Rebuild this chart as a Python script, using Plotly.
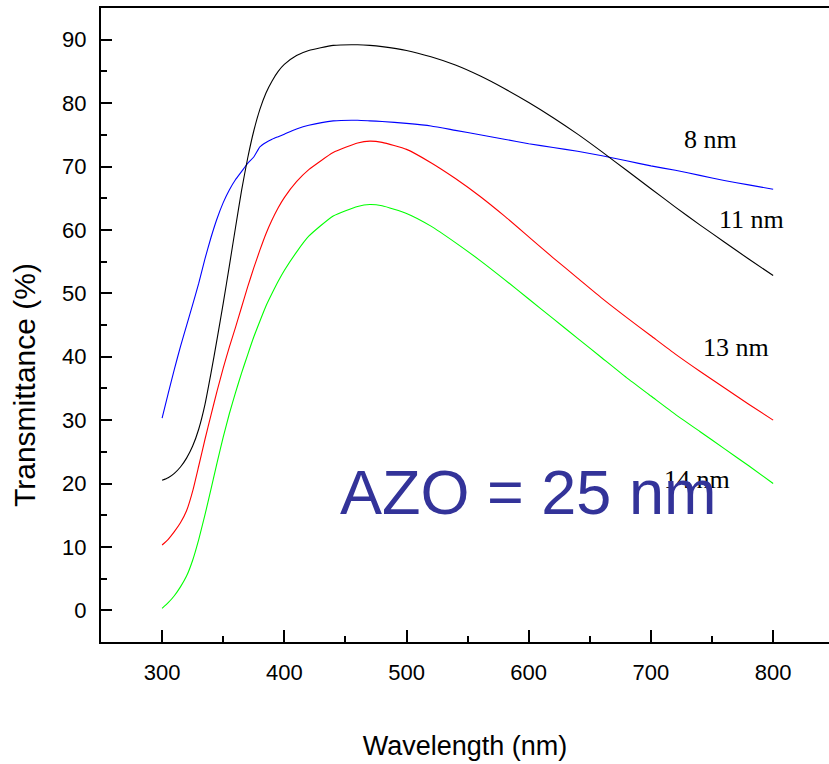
import plotly.graph_objects as go

# Wavelength grid (nm) shared by all spectra
wavelength = [300, 305, 310, 315, 320, 325, 330, 335, 340, 345, 350, 355, 360,
              365, 370, 375, 380, 385, 390, 395, 400, 410, 420, 440, 460, 470,
              480, 500, 520, 540, 560, 580, 600, 620, 640, 660, 680, 700, 720,
              740, 760, 780, 800]

# Transmittance (%) for each Ag layer thickness
t_8nm = [30.3, 34.2, 38.0, 41.6, 44.9, 48.2, 51.6, 55.4, 58.8, 61.8, 64.3, 66.3, 67.9,
         69.2, 70.5, 71.5, 73.1, 73.8, 74.3, 74.7, 75.1, 75.9, 76.5, 77.2, 77.3, 77.2,
         77.1, 76.8, 76.4, 75.7, 75.0, 74.3, 73.6, 73.0, 72.4, 71.7, 70.9, 70.1, 69.4,
         68.6, 67.8, 67.1, 66.4]
t_11nm = [20.5, 20.9, 21.6, 22.6, 24.0, 25.9, 28.6, 32.4, 37.4, 42.8, 48.4, 54.3, 60.3,
          66.2, 71.3, 75.6, 79.0, 81.6, 83.5, 85.0, 86.1, 87.5, 88.3, 89.1, 89.2, 89.1,
          88.9, 88.3, 87.3, 86.0, 84.3, 82.3, 80.1, 77.7, 75.1, 72.3, 69.4, 66.5, 63.6,
          60.8, 58.1, 55.4, 52.8]
t_13nm = [10.3, 11.2, 12.4, 13.8, 15.7, 18.8, 22.8, 26.9, 30.8, 34.6, 38.2, 41.5, 44.6,
          47.8, 51.0, 54.0, 56.8, 59.4, 61.6, 63.5, 65.1, 67.6, 69.5, 72.2, 73.7, 74.0,
          73.8, 72.7, 70.6, 68.1, 65.3, 62.2, 58.9, 55.6, 52.4, 49.2, 46.2, 43.3, 40.4,
          37.7, 35.1, 32.5, 30.0]
t_14nm = [0.3, 1.2, 2.3, 3.7, 5.4, 7.9, 11.2, 15.0, 19.1, 23.3, 27.3, 31.0, 34.3,
          37.4, 40.3, 43.1, 45.6, 48.0, 50.0, 51.9, 53.6, 56.5, 59.0, 62.2, 63.7, 64.0,
          63.8, 62.6, 60.6, 58.0, 55.2, 52.2, 49.1, 46.0, 42.9, 39.8, 36.7, 33.8, 30.9,
          28.2, 25.5, 22.8, 20.0]

series = [
    ("8 nm", t_8nm, "#0000ff"),
    ("11 nm", t_11nm, "#000000"),
    ("13 nm", t_13nm, "#ff0000"),
    ("14 nm", t_14nm, "#00ff00"),
]

# Curve label positions (data coordinates)
label_text = ["8 nm", "11 nm", "13 nm", "14 nm"]
label_x = [748.4, 782.5, 769.6, 737.5]
label_y = [74.2, 61.6, 41.4, 20.6]

sans = "Liberation Sans, Arial, sans-serif"
serif = "Liberation Serif, Times New Roman, serif"

fig = go.Figure()
for name, vals, color in series:
    fig.add_trace(go.Scatter(
        x=wavelength, y=vals, mode="lines", name=name,
        line=dict(color=color, width=1.1, shape="spline", smoothing=0.5),
        showlegend=False,
    ))

for txt, lx, ly in zip(label_text, label_x, label_y):
    fig.add_annotation(
        x=lx, y=ly, text=txt, showarrow=False,
        font=dict(family=serif, size=26, color="black"),
        xanchor="center", yanchor="middle",
    )

fig.add_annotation(
    x=599, y=18.7, text="AZO = 25 nm", showarrow=False,
    font=dict(family=sans, size=63, color="#333399"),
    xanchor="center", yanchor="middle",
)

# Y axis title, placed below the axis centre
fig.add_annotation(
    xref="paper", yref="paper", x=-0.1044, y=0.4054,
    text="Transmittance (%)", textangle=-90, showarrow=False,
    font=dict(family=sans, size=30, color="black"),
    xanchor="center", yanchor="middle",
)

axis_font = dict(family=sans, size=22, color="black")

fig.update_layout(
    width=829, height=764,
    margin=dict(l=101, r=0, t=8, b=122),
    paper_bgcolor="white", plot_bgcolor="white",
    font=axis_font,
    xaxis=dict(
        range=[250, 845.7],
        tickvals=[300, 400, 500, 600, 700, 800],
        ticks="inside", ticklen=12, tickwidth=2, tickcolor="black",
        minor=dict(ticks="inside", ticklen=6, tickwidth=2, tickcolor="black", dtick=50, tick0=250),
        showline=True, linewidth=2, linecolor="black", mirror=True,
        showgrid=False, zeroline=False,
        tickfont=axis_font, ticklabelstandoff=10,
        title=dict(text="Wavelength (nm)", font=dict(family=sans, size=27), standoff=52),
    ),
    yaxis=dict(
        range=[-5, 95],
        tickvals=[0, 10, 20, 30, 40, 50, 60, 70, 80, 90],
        ticks="inside", ticklen=11, tickwidth=2, tickcolor="black",
        minor=dict(ticks="inside", ticklen=6, tickwidth=2, tickcolor="black", dtick=5, tick0=-5),
        showline=True, linewidth=2, linecolor="black",
        showgrid=False, zeroline=False,
        tickfont=axis_font, ticklabelstandoff=8,
    ),
)

fig.write_html("out.html")
